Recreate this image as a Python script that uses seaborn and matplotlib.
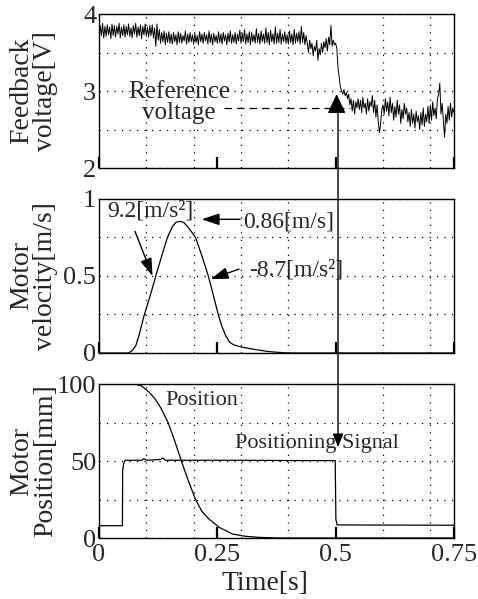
import numpy as np
import pandas as pd
import matplotlib
matplotlib.use('Agg')
import matplotlib.pyplot as plt
import seaborn as sns
from matplotlib.patches import ConnectionPatch
from matplotlib.ticker import MultipleLocator, FixedLocator, FuncFormatter

# ---------------- data ----------------
volt_step = 0.0025
feedback_voltage = [
    3.70, 3.85, 3.72, 3.88, 3.69, 3.84, 3.71, 3.86, 3.73, 3.83, 3.68, 3.87, 3.72, 3.85, 3.70, 3.84, 3.74, 3.88, 3.69, 3.83,
    3.72, 3.86, 3.70, 3.84, 3.73, 3.87, 3.71, 3.82, 3.69, 3.85, 3.74, 3.88, 3.70, 3.83, 3.72, 3.86, 3.68, 3.84, 3.73, 3.87,
    3.71, 3.83, 3.70, 3.85, 3.72, 3.86, 3.69, 3.82, 3.58, 3.87, 3.66, 3.80, 3.62, 3.76, 3.64, 3.78, 3.60, 3.75, 3.63, 3.77,
    3.62, 3.74, 3.61, 3.76, 3.64, 3.73, 3.60, 3.77, 3.63, 3.75, 3.62, 3.72, 3.65, 3.78, 3.61, 3.74, 3.63, 3.76, 3.64, 3.73,
    3.61, 3.75, 3.63, 3.72, 3.60, 3.77, 3.64, 3.74, 3.62, 3.76, 3.65, 3.73, 3.61, 3.78, 3.63, 3.74, 3.60, 3.75, 3.64, 3.72,
    3.62, 3.77, 3.63, 3.74, 3.61, 3.76, 3.65, 3.73, 3.60, 3.75, 3.64, 3.78, 3.62, 3.73, 3.63, 3.76, 3.61, 3.74, 3.65, 3.79,
    3.62, 3.75, 3.64, 3.80, 3.61, 3.74, 3.63, 3.77, 3.60, 3.76, 3.64, 3.73, 3.62, 3.81, 3.63, 3.75, 3.61, 3.78, 3.64, 3.74,
    3.62, 3.82, 3.63, 3.76, 3.60, 3.79, 3.64, 3.74, 3.61, 3.83, 3.62, 3.75, 3.63, 3.80, 3.61, 3.74, 3.64, 3.77, 3.62, 3.73,
    3.61, 3.78, 3.63, 3.74, 3.60, 3.80, 3.62, 3.75, 3.64, 3.77, 3.61, 3.84, 3.63, 3.76, 3.60, 3.72, 3.62, 3.50, 3.66, 3.55,
    3.62, 3.46, 3.58, 3.52, 3.66, 3.40, 3.55, 3.47, 3.62, 3.50, 3.64, 3.56, 3.68, 3.52, 3.70, 3.60, 3.85, 3.58, 3.66, 3.60,
    3.62, 3.55, 3.30, 3.18, 3.05, 3.00, 2.96, 3.02, 2.94, 2.98, 2.90, 2.96, 2.82, 2.90, 2.74, 2.88, 2.70, 2.86, 2.78, 2.90,
    2.76, 2.88, 2.72, 2.92, 2.78, 2.84, 2.70, 2.90, 2.74, 2.86, 2.80, 2.94, 2.72, 2.88, 2.66, 2.82, 2.60, 2.46, 2.58, 2.76,
    2.82, 2.70, 2.90, 2.74, 2.86, 2.68, 2.92, 2.72, 2.84, 2.62, 2.80, 2.66, 2.88, 2.70, 2.82, 2.58, 2.76, 2.64, 2.84, 2.70,
    2.78, 2.60, 2.72, 2.54, 2.76, 2.58, 2.70, 2.52, 2.74, 2.60, 2.68, 2.50, 2.72, 2.56, 2.78, 2.54, 2.70, 2.60, 2.80, 2.58,
    2.82, 2.62, 2.86, 2.68, 2.78, 2.64, 2.90, 2.96, 3.10, 2.70, 2.84, 2.62, 2.40, 2.70, 2.58, 2.80, 2.62, 2.84, 2.66, 2.78,
    2.72,
]
volt_time = np.round(np.arange(len(feedback_voltage)) * volt_step, 5)

vel_time = [0, 0.062, 0.07, 0.078, 0.085, 0.095, 0.108, 0.12, 0.132, 0.1445,
            0.155, 0.163, 0.1727, 0.18, 0.19, 0.204, 0.218, 0.231, 0.242, 0.252,
            0.26, 0.268, 0.276, 0.285, 0.303, 0.331, 0.359, 0.38, 0.40, 0.75]
velocity = [0, 0, 0.015, 0.05, 0.12, 0.24, 0.37, 0.50, 0.625, 0.75,
            0.82, 0.85, 0.855, 0.845, 0.81, 0.75, 0.625, 0.50, 0.37, 0.25,
            0.17, 0.11, 0.07, 0.052, 0.037, 0.022, 0.009, 0.004, 0.0, 0.0]

pos_time = [0, 0.074, 0.09, 0.106, 0.118, 0.130, 0.146, 0.16, 0.174, 0.189,
            0.204, 0.218, 0.2325, 0.254, 0.282, 0.31, 0.34, 0.38, 0.75]
position = [100, 100, 98.8, 94.6, 90.5, 84.8, 75, 63, 50, 37,
            25, 17, 12.3, 6.9, 2.6, 1.1, 0.4, 0, 0]

sig_time = [0, 0.0495, 0.050, 0.052, 0.055, 0.09, 0.095, 0.10, 0.13, 0.135,
            0.14, 0.2, 0.3, 0.4, 0.499, 0.5005, 0.503, 0.75]
signal = [8, 8, 44, 48, 50.5, 50.5, 51.5, 50.5, 51, 52,
          50.5, 50.5, 50.5, 50.3, 50.3, 12, 8.5, 8.3]

reference_voltage = 2.78
positioning_time = 0.505

x_ticks = [0, 0.25, 0.5, 0.75]
x_tick_labels = ["0", "0.25", "0.5", "0.75"]
volt_ticks, volt_labels = [2, 3, 4], ["2", "3", "4"]
vel_ticks, vel_labels = [0, 0.5, 1], ["0", "0.5", "1"]
pos_ticks, pos_labels = [0, 50, 100], ["0", "50", "100"]

# ---------------- style ----------------
sns.set_style('white')
plt.rcParams['font.family'] = ['Liberation Serif', 'DejaVu Serif']

fig = plt.figure(figsize=(4.78, 5.99), dpi=100)
L, W, H = 0.2071, 0.7427, 0.2571
ax1 = fig.add_axes([L, 0.7195, W, H])
ax2 = fig.add_axes([L, 0.4107, W, H])
ax3 = fig.add_axes([L, 0.1018, W, H])

dot = (0, (1, 5))


def style(ax, ylim, yt, yl, yminor, ylabel):
    ax.set_xlim(0, 0.75)
    ax.set_ylim(*ylim)
    ax.xaxis.set_major_locator(FixedLocator(x_ticks))
    ax.xaxis.set_minor_locator(MultipleLocator(0.1))
    ax.yaxis.set_major_locator(FixedLocator(yt))
    ax.yaxis.set_major_formatter(FuncFormatter(lambda v, p, d=dict(zip(yt, yl)): d.get(v, "")))
    ax.yaxis.set_minor_locator(MultipleLocator(yminor))
    ax.grid(which='minor', axis='both', ls=dot, lw=0.9, color='k')
    ax.grid(which='major', axis='y', ls=dot, lw=0.9, color='k')
    ax.grid(which='major', axis='x', visible=False)
    ax.tick_params(axis='x', which='major', direction='in', length=8, width=1.6,
                   bottom=True, top=False, labelbottom=False, color='k')
    ax.tick_params(axis='both', which='minor', length=0)
    ax.tick_params(axis='y', which='major', length=0, pad=2, labelsize=19, left=False)
    for s in ax.spines.values():
        s.set_visible(True)
        s.set_color('k')
        s.set_linewidth(1.0)
    ax.set_ylabel(ylabel, fontsize=20, linespacing=0.95)
    ax.yaxis.set_label_coords(-0.115, 0.5)
    ax.set_xlabel('')


sns.lineplot(x=volt_time, y=feedback_voltage, ax=ax1, color='k', lw=0.7, estimator=None)
style(ax1, (2, 4), volt_ticks, volt_labels, 0.5, "Feedback\nvoltage[V]")

sns.lineplot(x=vel_time, y=velocity, ax=ax2, color='k', lw=0.9, estimator=None)
style(ax2, (0, 1), vel_ticks, vel_labels, 0.25, "Motor\nvelocity[m/s]")

sns.lineplot(x=pos_time, y=position, ax=ax3, color='k', lw=0.9, estimator=None)
sns.lineplot(x=sig_time, y=signal, ax=ax3, color='k', lw=0.9, estimator=None)
style(ax3, (0, 100), pos_ticks, pos_labels, 25, "Motor\nPosition[mm]")
ax3.xaxis.set_major_formatter(FuncFormatter(lambda v, p: dict(zip(x_ticks, x_tick_labels)).get(v, "")))
ax3.tick_params(axis='x', which='major', labelbottom=True, labelsize=19, pad=4.5)
ax3.set_xlabel("Time[s]", fontsize=20)
ax3.xaxis.set_label_coords(0.468, -0.215)

# ---------------- annotations ----------------
ax1.hlines(reference_voltage, 0.265, 0.53, colors='k', lw=0.9, linestyles=(0, (6, 4)))
ax1.text(0.169, 2.85, "Reference\nvoltage", ha='center', va='center', fontsize=18, linespacing=0.95)
ax1.annotate('', xy=(0.502, 2.96), xytext=(0.502, 2.72),
             arrowprops=dict(arrowstyle='-|>,head_length=0.85,head_width=0.4', mutation_scale=14,
                             color='k', lw=1, shrinkA=0, shrinkB=0))
con = ConnectionPatch(xyA=(positioning_time, 2.74), coordsA=ax1.transData,
                      xyB=(positioning_time, 59), coordsB=ax3.transData,
                      arrowstyle='-|>,head_length=1.0,head_width=0.4', mutation_scale=8,
                      lw=1.0, color='k', shrinkA=0, shrinkB=0)
fig.add_artist(con)

arw = dict(arrowstyle='-|>,head_length=0.9,head_width=0.3', mutation_scale=12,
           color='k', lw=1.0, shrinkA=0, shrinkB=0)
ax2.text(0.017, 0.92, "9.2[m/s²]", ha='left', va='center', fontsize=17)
ax2.annotate('', xy=(0.113, 0.50), xytext=(0.076, 0.79), arrowprops=arw)
ax2.text(0.305, 0.85, "0.86[m/s]", ha='left', va='center', fontsize=17)
ax2.annotate('', xy=(0.217, 0.868), xytext=(0.298, 0.868), arrowprops=arw)
ax2.text(0.318, 0.54, "-8.7[m/s²]", ha='left', va='center', fontsize=17)
ax2.annotate('', xy=(0.236, 0.48), xytext=(0.296, 0.545), arrowprops=arw)

ax3.text(0.14, 89.6, "Position", ha='left', va='center', fontsize=16)
ax3.text(0.288, 61.7, "Positioning Signal", ha='left', va='center', fontsize=16)

fig.savefig('out.png', dpi=100)
